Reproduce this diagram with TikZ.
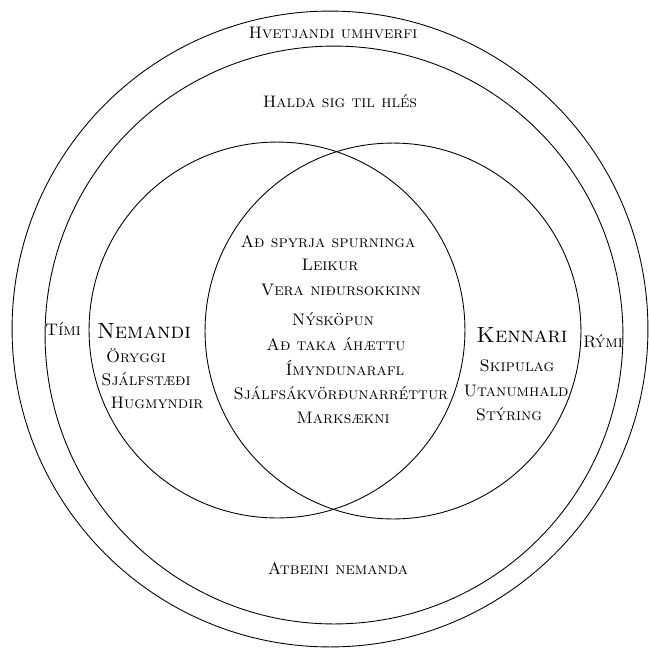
\documentclass[tikz,border=0pt]{standalone}
\usepackage{tikz}
\usetikzlibrary{positioning}

\begin{document}
\begin{tikzpicture}[x=0.02cm,y=-0.02cm,
                    ring/.style={line width=0.5pt},
                    word/.style={inner sep=1pt,font=\fontsize{9.5}{11}\selectfont\scshape},
                    role/.style={inner sep=1pt,font=\fontsize{12.5}{15}\selectfont\scshape}]
 \useasboundingbox (0,0) rectangle (649,657);
 \draw[ring] (330,329) circle [radius=6.36cm];
 \draw[ring] (334,335) circle [radius=5.78cm];
 \draw[ring] (277,330) circle [radius=3.76cm];
 \draw[ring] (393,331) circle [radius=3.76cm];
 \node[word] (hvetjandi) at (333,33) {Hvetjandi umhverfi};
 \node[word] (halda) at (340,101) {Halda sig til hlés};
 \node[word] (atbeini) at (338,569) {Atbeini nemanda};
 \node[word] (timi) at (63,329) {Tími};
 \node[word] (rymi) at (603,341) {Rými};
 \node[role] (nemandi) at (144,331) {Nemandi};
 \node[word] (oryggi) at (136,356) {Öryggi};
 \node[word] (sjalfstaedi) at (146,379) {Sjálfstæði};
 \node[word] (hugmyndir) at (157,403) {Hugmyndir};
 \node[role] (kennari) at (522,335) {Kennari};
 \node[word] (skipulag) at (517,366) {Skipulag};
 \node[word] (utanumhald) at (516,391) {Utanumhald};
 \node[word] (styring) at (509,414) {Stýring};
 \node[word] (spyrja) at (328,242) {Að spyrja spurninga};
 \node[word] (leikur) at (330,265) {Leikur};
 \node[word] (nidursokkinn) at (341,290) {Vera niðursokkinn};
 \node[word] (nyskopun) at (333,319) {Nýsköpun};
 \node[word] (ahaettu) at (336,344) {Að taka áhættu};
 \node[word] (imyndunarafl) at (345,368) {Ímyndunarafl};
 \node[word] (sjalfsakvordun) at (341,393) {Sjálfsákvörðunarréttur};
 \node[word] (marksaekni) at (343,418) {Marksækni};
\end{tikzpicture}
\end{document}
